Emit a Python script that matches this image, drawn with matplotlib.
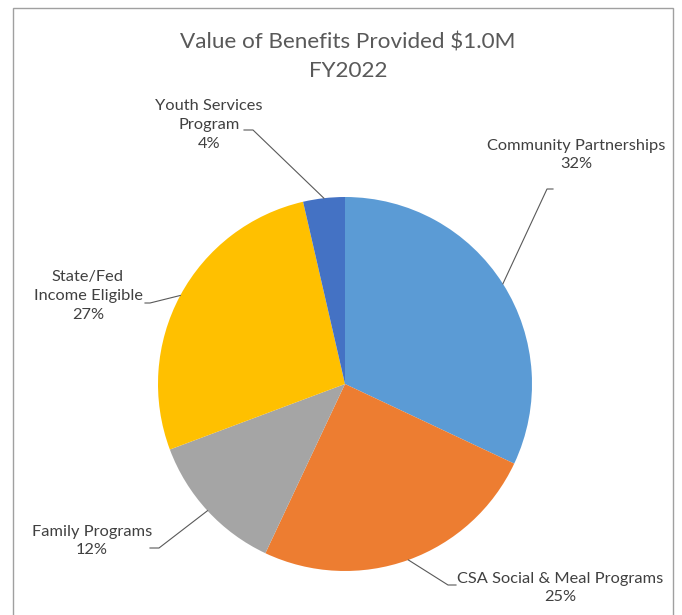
import matplotlib.pyplot as plt
import numpy as np
from matplotlib.patches import Rectangle

W, H = 682, 615

labels = ['Community Partnerships', 'CSA Social & Meal Programs', 'Family Programs',
          'State/Fed\nIncome Eligible', 'Youth Services\nProgram']
shares = [32.0, 25.0, 12.3, 27.1, 3.6]
colors = ['#5B9BD5', '#ED7D31', '#A5A5A5', '#FFC000', '#4472C4']
title = 'Value of Benefits Provided $1.0M\nFY2022'

# label text centres and leader elbow points, in pixel coords (y down)
label_xy = [(576, 155), (560, 588), (92, 541), (88, 296), (209, 125)]
elbows = [[(547, 189), (553, 189)],
          [(448, 585), (456, 585)],
          [(159, 548), (150, 548)],
          [(150, 303), (145, 303)],
          [(253, 130), (244, 130)]]

cx, cy, r = 345, 384, 187

plt.rcParams['font.family'] = ['Lato', 'DejaVu Sans']

fig = plt.figure(figsize=(W / 100, H / 100), dpi=100)
ax = fig.add_axes([0, 0, 1, 1])


def fy(y):
    return H - y


wedges, _ = ax.pie(shares, colors=colors, startangle=90, counterclock=False,
                   center=(cx, fy(cy)), radius=r, frame=True,
                   wedgeprops=dict(linewidth=0))
ax.set_xlim(0, W)
ax.set_ylim(0, H)
ax.set_aspect('equal')
ax.axis('off')

# chart frame
ax.add_patch(Rectangle((13, -5), 660, fy(8) + 5, fill=False,
                       edgecolor='#a0a0a0', linewidth=1))

ax.text(348, fy(57), title, ha='center', va='center', fontsize=16.2,
        color='#595959', linespacing=1.55)

for w, lab, share, (tx, ty), elb in zip(wedges, labels, shares, label_xy, elbows):
    ang = np.deg2rad((w.theta1 + w.theta2) / 2)
    x0 = cx + r * np.cos(ang)
    y0 = fy(cy) + r * np.sin(ang)
    xs = [x0] + [p[0] for p in elb]
    ys = [y0] + [fy(p[1]) for p in elb]
    ax.plot(xs, ys, color='#595959', linewidth=0.8)
    ax.text(tx, fy(ty), '%s\n%d%%' % (lab, round(share)), ha='center', va='center',
            fontsize=11.8, color='#404040', linespacing=1.45)

fig.savefig('out.png', dpi=100)
